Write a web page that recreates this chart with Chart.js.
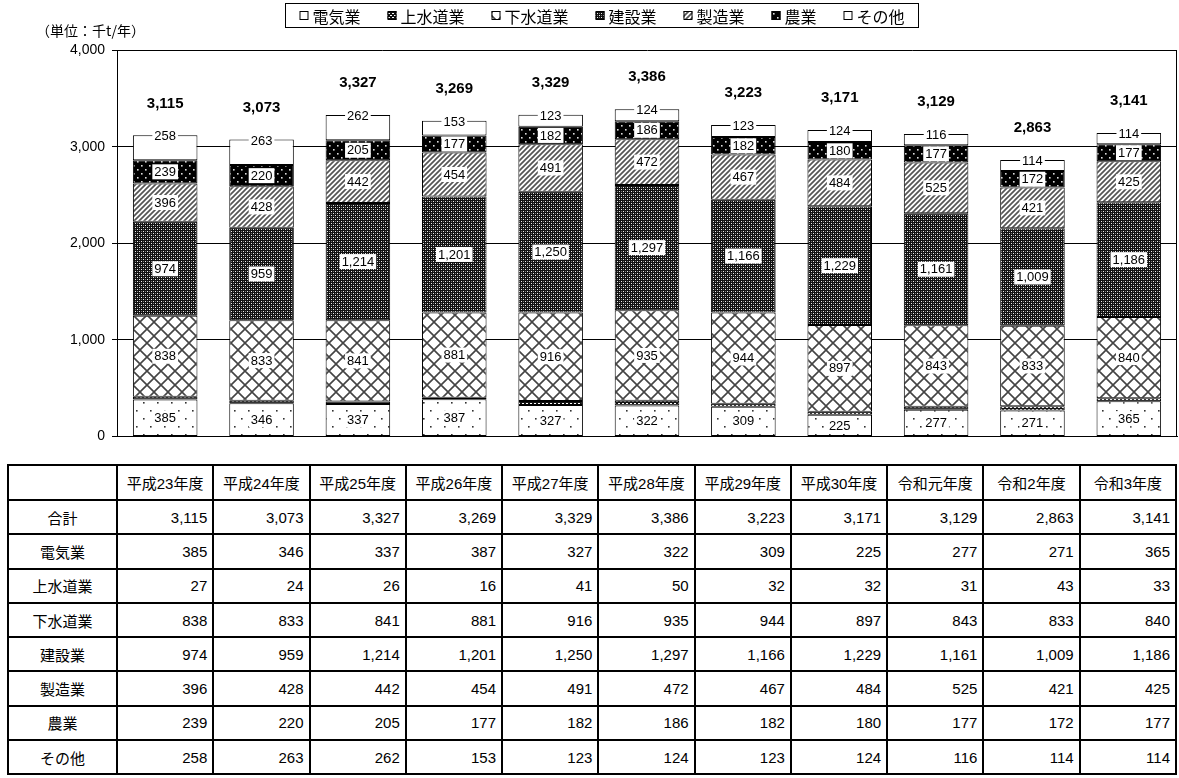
<!DOCTYPE html>
<html lang="ja">
<head>
<meta charset="utf-8">
<script src="https://cdn.jsdelivr.net/npm/chart.js@4"></script>
<style>
  html, body { margin: 0; padding: 0; background: #fff; }
  #wrap { position: relative; width: 1179px; height: 778px; overflow: hidden; }
  #c { position: absolute; left: 0; top: 0; }
  #tbl {
    position: absolute; left: 7px; top: 464px; width: 1170px;
    border-collapse: collapse; table-layout: fixed;
    font-family: "Liberation Sans", "Noto Sans CJK JP", sans-serif; font-size: 15px; color: #000;
  }
  #tbl td, #tbl th { border: 2px solid #000; padding: 0 5px 0 2px; font-weight: normal; white-space: nowrap; overflow: hidden; }
  #tbl th { height: 33px; text-align: center; padding: 0; }
  #tbl td { height: 32.3px; text-align: right; }
  #tbl td.lab { text-align: center; padding: 0; }
</style>
</head>
<body>
<div id="wrap">
  <canvas id="c" width="1179" height="452"></canvas>
  <table id="tbl"></table>
</div>
<script>
// ---- data ----
const categories = ['平成23年度','平成24年度','平成25年度','平成26年度','平成27年度','平成28年度','平成29年度','平成30年度','令和元年度','令和2年度','令和3年度'];
const seriesNames = ['電気業','上水道業','下水道業','建設業','製造業','農業','その他'];
const totals        = [3115, 3073, 3327, 3269, 3329, 3386, 3223, 3171, 3129, 2863, 3141];
const electric      = [385, 346, 337, 387, 327, 322, 309, 225, 277, 271, 365];
const water         = [27, 24, 26, 16, 41, 50, 32, 32, 31, 43, 33];
const sewer         = [838, 833, 841, 881, 916, 935, 944, 897, 843, 833, 840];
const construction  = [974, 959, 1214, 1201, 1250, 1297, 1166, 1229, 1161, 1009, 1186];
const manufacturing = [396, 428, 442, 454, 491, 472, 467, 484, 525, 421, 425];
const agriculture   = [239, 220, 205, 177, 182, 186, 182, 180, 177, 172, 177];
const other         = [258, 263, 262, 153, 123, 124, 123, 124, 116, 114, 114];
const unitLabel = '（単位：千t/年）';
const totalLabel = '合計';

const seriesValues = [electric, water, sewer, construction, manufacturing, agriculture, other];
const fmt = v => v.toLocaleString('en-US');

// ---- patterns ----
const canvas = document.getElementById('c');
const mainCtx = canvas.getContext('2d');
function makePattern(w, h, draw) {
  const t = document.createElement('canvas');
  t.width = w; t.height = h;
  const g = t.getContext('2d');
  draw(g, w, h);
  return mainCtx.createPattern(t, 'repeat');
}
const patElectric = makePattern(14, 16, (g, w, h) => {
  g.fillStyle = '#fff'; g.fillRect(0, 0, w, h);
  g.fillStyle = '#333';
  g.fillRect(3, 2, 1.6, 1.6); g.fillRect(10, 10, 1.6, 1.6);
});
const patWater = makePattern(4, 4, (g, w, h) => {
  g.fillStyle = '#111'; g.fillRect(0, 0, w, h);
  g.fillStyle = '#fff'; g.fillRect(0, 1, 2, 1); g.fillRect(2, 3, 2, 1);
});
const patSewer = makePattern(14, 14, (g, w, h) => {
  g.fillStyle = '#fff'; g.fillRect(0, 0, w, h);
  g.strokeStyle = '#444'; g.lineWidth = 1.6;
  g.beginPath();
  g.moveTo(0, 0); g.lineTo(w, h);
  g.moveTo(w, 0); g.lineTo(0, h);
  g.stroke();
});
const patConstruction = makePattern(4, 4, (g, w, h) => {
  g.fillStyle = '#111'; g.fillRect(0, 0, w, h);
  g.fillStyle = '#eee'; g.fillRect(1, 1, 1, 1); g.fillRect(3, 3, 1, 1);
  g.fillStyle = '#777'; g.fillRect(1, 3, 1, 1); g.fillRect(3, 1, 1, 1);
});
const patManufacturing = makePattern(5, 5, (g, w, h) => {
  g.fillStyle = '#fff'; g.fillRect(0, 0, w, h);
  g.strokeStyle = '#555'; g.lineWidth = 1.7;
  g.beginPath();
  g.moveTo(-1, h + 1); g.lineTo(w + 1, -1);
  g.moveTo(-1, 1); g.lineTo(1, -1);
  g.moveTo(w - 1, h + 1); g.lineTo(w + 1, h - 1);
  g.stroke();
});
const patAgriculture = makePattern(8, 8, (g, w, h) => {
  g.fillStyle = '#000'; g.fillRect(0, 0, w, h);
  g.fillStyle = '#ddd'; g.fillRect(1, 1, 1.6, 1.6); g.fillRect(5, 5, 1.6, 1.6);
});
const fills = [patElectric, patWater, patSewer, patConstruction, patManufacturing, patAgriculture, '#ffffff'];

// ---- plugins ----
const labelPlugin = {
  id: 'labels',
  afterDatasetsDraw(chart) {
    const ctx = chart.ctx;
    ctx.save();
    ctx.font = '13px "Liberation Sans", Arial, sans-serif';
    ctx.textAlign = 'center';
    ctx.textBaseline = 'middle';
    chart.data.datasets.forEach((ds, i) => {
      if (i === 1) return;
      const meta = chart.getDatasetMeta(i);
      meta.data.forEach((bar, j) => {
        const txt = fmt(ds.data[j]);
        const x = bar.x;
        const y = (i === 6) ? bar.y + 1 : (bar.y + bar.base) / 2;
        const w = ctx.measureText(txt).width + 4;
        const h = 15;
        ctx.fillStyle = '#fff';
        ctx.fillRect(x - w / 2, y - h / 2, w, h);
        ctx.fillStyle = '#000';
        ctx.fillText(txt, x, y + 0.5);
      });
    });
    // totals
    const ys = chart.scales.y;
    const meta0 = chart.getDatasetMeta(0);
    ctx.font = 'bold 15px "Liberation Sans", Arial, sans-serif';
    ctx.fillStyle = '#000';
    totals.forEach((t, j) => {
      const x = meta0.data[j].x;
      ctx.fillText(fmt(t), x, ys.getPixelForValue(t) - 32);
    });
    ctx.restore();
  },
  afterDraw(chart) {
    const ctx = chart.ctx;
    const a = chart.chartArea;
    ctx.save();
    // right frame line
    ctx.strokeStyle = '#000'; ctx.lineWidth = 1;
    ctx.beginPath();
    ctx.moveTo(Math.round(a.right) - 0.5, a.top);
    ctx.lineTo(Math.round(a.right) - 0.5, a.bottom);
    ctx.stroke();
    // unit label
    ctx.font = '14px "Noto Sans CJK JP", sans-serif';
    ctx.textAlign = 'left'; ctx.textBaseline = 'middle'; ctx.fillStyle = '#000';
    ctx.fillText(unitLabel, 36, 31);
    // legend
    ctx.font = '16px "Noto Sans CJK JP", sans-serif';
    const mk = 9, mgap = 4, igap = 27, pad = 14;
    const widths = seriesNames.map(n => ctx.measureText(n).width);
    let content = widths.reduce((s, w) => s + w + mk + mgap, 0) + igap * (seriesNames.length - 1);
    const boxW = content + pad * 2;
    const cx = 602;
    const bx = Math.round(cx - boxW / 2) + 0.5, by = 3.5, bh = 24;
    ctx.strokeStyle = '#000'; ctx.lineWidth = 1;
    ctx.strokeRect(bx, by, Math.round(boxW), bh);
    let x = bx + pad;
    const cy = by + bh / 2;
    seriesNames.forEach((n, i) => {
      ctx.fillStyle = chart.data.datasets[i].backgroundColor;
      ctx.fillRect(x, cy - mk / 2, mk, mk);
      ctx.strokeStyle = '#000';
      ctx.strokeRect(x + 0.5, cy - mk / 2 + 0.5, mk - 1, mk - 1);
      ctx.fillStyle = '#000';
      ctx.fillText(n, x + mk + mgap, cy + 1);
      x += mk + mgap + widths[i] + igap;
    });
    ctx.restore();
  }
};

// ---- chart ----
new Chart(canvas, {
  type: 'bar',
  data: {
    labels: categories,
    datasets: seriesNames.map((n, i) => ({
      label: n,
      data: seriesValues[i],
      backgroundColor: fills[i],
      borderColor: '#000',
      borderWidth: 1,
      borderSkipped: false,
      categoryPercentage: 1.0,
      barPercentage: 0.67
    }))
  },
  options: {
    responsive: false,
    animation: false,
    devicePixelRatio: 1,
    layout: { padding: { top: 50, left: 0, right: 2, bottom: 6 } },
    plugins: { legend: { display: false }, tooltip: { enabled: false }, title: { display: false } },
    scales: {
      x: {
        stacked: true,
        grid: { display: false },
        ticks: { display: false },
        border: { display: true, color: '#000', width: 1 },
        afterFit(s) { s.height = 0; }
      },
      y: {
        stacked: true,
        min: 0, max: 4000,
        ticks: {
          stepSize: 1000,
          color: '#000',
          padding: 7,
          font: { size: 14, family: '"Liberation Sans", Arial, sans-serif' },
          callback: v => fmt(v)
        },
        grid: { color: '#000', lineWidth: 1, tickLength: 5, drawOnChartArea: true },
        border: { display: true, color: '#000', width: 1 },
        afterFit(s) { s.width = 117; }
      }
    }
  },
  plugins: [labelPlugin]
});

// ---- table ----
const tbl = document.getElementById('tbl');
let html = '<colgroup><col style="width:109px">' + categories.map(() => '<col>').join('') + '</colgroup>';
html += '<tr><th></th>' + categories.map(c => '<th>' + c + '</th>').join('') + '</tr>';
const rows = [[totalLabel, totals]].concat(seriesNames.map((n, i) => [n, seriesValues[i]]));
rows.forEach(([n, vals]) => {
  html += '<tr><td class="lab">' + n + '</td>' + vals.map(v => '<td>' + fmt(v) + '</td>').join('') + '</tr>';
});
tbl.innerHTML = html;
</script>
</body>
</html>
